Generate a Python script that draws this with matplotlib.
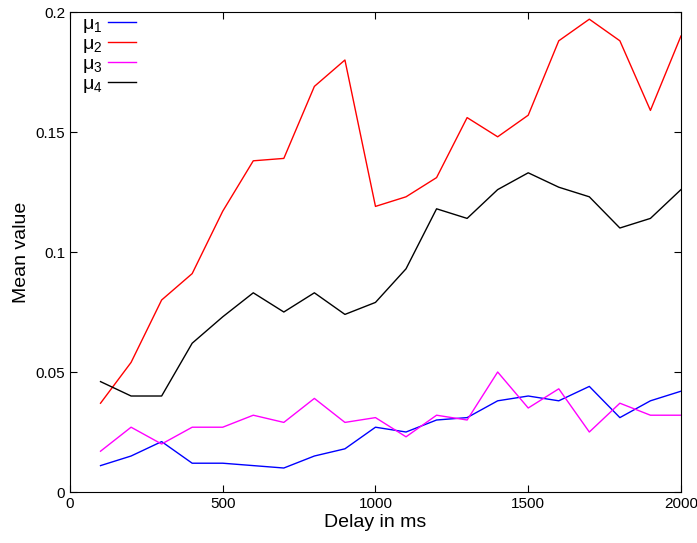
import numpy as np
import matplotlib.pyplot as plt
from matplotlib.ticker import FuncFormatter

plt.rcParams['font.family'] = ['Liberation Sans', 'DejaVu Sans']
plt.rcParams['mathtext.default'] = 'regular'

# delay values (ms)
delay = [100, 200, 300, 400, 500, 600, 700, 800, 900, 1000,
         1100, 1200, 1300, 1400, 1500, 1600, 1700, 1800, 1900, 2000]

mu1 = [0.011, 0.015, 0.021, 0.012, 0.012, 0.011, 0.010, 0.015, 0.018, 0.027,
       0.025, 0.030, 0.031, 0.038, 0.040, 0.038, 0.044, 0.031, 0.038, 0.042]
mu2 = [0.037, 0.054, 0.080, 0.091, 0.117, 0.138, 0.139, 0.169, 0.180, 0.119,
       0.123, 0.131, 0.156, 0.148, 0.157, 0.188, 0.197, 0.188, 0.159, 0.190]
mu3 = [0.017, 0.027, 0.020, 0.027, 0.027, 0.032, 0.029, 0.039, 0.029, 0.031,
       0.023, 0.032, 0.030, 0.050, 0.035, 0.043, 0.025, 0.037, 0.032, 0.032]
mu4 = [0.046, 0.040, 0.040, 0.062, 0.073, 0.083, 0.075, 0.083, 0.074, 0.079,
       0.093, 0.118, 0.114, 0.126, 0.133, 0.127, 0.123, 0.110, 0.114, 0.126]

fig = plt.figure(figsize=(6.97, 5.43), dpi=100)
ax = fig.add_axes([0.1004, 0.0939, 0.8766, 0.8840])

ax.plot(delay, mu1, color='#0000ff', lw=1, label='μ$_1$')
ax.plot(delay, mu2, color='#ff0000', lw=1, label='μ$_2$')
ax.plot(delay, mu3, color='#ff00ff', lw=1, label='μ$_3$')
ax.plot(delay, mu4, color='#000000', lw=1, label='μ$_4$')

ax.set_xlim(0, 2000)
ax.set_ylim(0, 0.2)
ax.set_xticks([0, 500, 1000, 1500, 2000])
ax.set_yticks([0, 0.05, 0.1, 0.15, 0.2])
ax.yaxis.set_major_formatter(FuncFormatter(lambda v, p: ('%g' % round(v, 3))))
ax.tick_params(direction='in', top=True, right=True, labelsize=11, length=5)
ax.set_xlabel('Delay in ms', fontsize=14, labelpad=2)
ax.set_ylabel('Mean value', fontsize=14)

leg = ax.legend(loc='upper left', bbox_to_anchor=(0.015, 1.0), frameon=False,
                markerfirst=False, fontsize=14, handlelength=1.4,
                borderaxespad=0.0, labelspacing=0.02, borderpad=0.15,
                handletextpad=0.3)

fig.savefig('out.png', dpi=100)
